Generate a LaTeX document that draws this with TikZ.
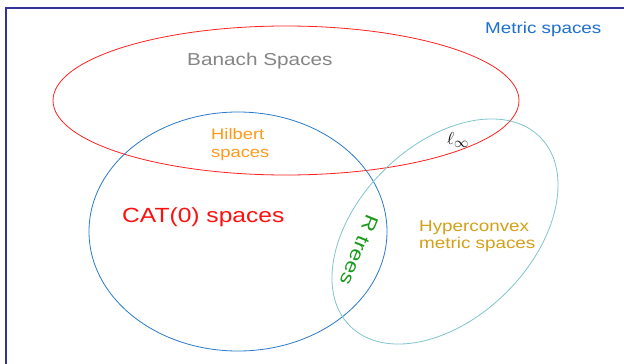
\documentclass[tikz,border=0pt]{standalone}
\usepackage{fontspec}
\setmainfont{Liberation Sans}
\newfontfamily\widefont[FakeStretch=1.2]{Liberation Sans}
\definecolor{framecol}{HTML}{333399}
\definecolor{redline}{HTML}{FF2020}
\definecolor{blueline}{HTML}{2A7BCB}
\definecolor{cyanline}{HTML}{80C6CC}
\definecolor{metriccol}{HTML}{1E6FD0}
\definecolor{banachcol}{HTML}{858585}
\definecolor{hilbertcol}{HTML}{FF9A1A}
\definecolor{catcol}{HTML}{FF1010}
\definecolor{treecol}{HTML}{1A9A1A}
\definecolor{hypercol}{HTML}{D4A017}
\begin{document}
\begin{tikzpicture}[x=1pt,y=-1pt,
  setline/.style={line width=0.8pt},
  lbl/.style={inner sep=0pt, anchor=base west, font=\widefont}]
\useasboundingbox (0,0) rectangle (624,364);
\fill[white] (0,0) rectangle (624,364);
% frame (extends past the right and bottom edges)
\draw[framecol, line width=1.8pt] (6,380) -- (6,8) -- (640,8);
% sets
\draw[setline, redline] (286,100.5) ellipse [x radius=233, y radius=74.5];
\draw[setline, blueline] (238,231.5) ellipse [x radius=149, y radius=119.5];
\draw[setline, cyanline, rotate around={44.7:(445,231.5)}] (445,231.5) ellipse [x radius=134, y radius=86.5];
% labels
\node[lbl, text=metriccol, font=\widefont\fontsize{15.7}{18}\selectfont] (metric) at (485,33) {Metric spaces};
\node[lbl, text=banachcol, font=\widefont\fontsize{17.3}{20}\selectfont] (banach) at (187,65) {Banach Spaces};
\node[lbl, text=hilbertcol, align=left, font=\widefont\fontsize{15.3}{18}\selectfont] (hilbert) at (211,157) {Hilbert\\spaces};
\node[lbl, text=catcol, font=\widefont\fontsize{20.5}{24}\selectfont] (cat) at (122,222) {CAT(0) spaces};
\node[lbl, text=hypercol, align=left, font=\widefont\fontsize{15.7}{16.5}\selectfont] (hyper) at (419,248) {Hyperconvex\\metric spaces};
\node[inner sep=0pt, text=treecol, rotate=-112, font=\widefont\fontsize{19}{22}\selectfont] (rtrees) at (359,250) {R trees};
\node[inner sep=0pt, font=\fontsize{19}{22}\selectfont] (linf) at (458,140) {$\ell_\infty$};
\end{tikzpicture}
\end{document}
